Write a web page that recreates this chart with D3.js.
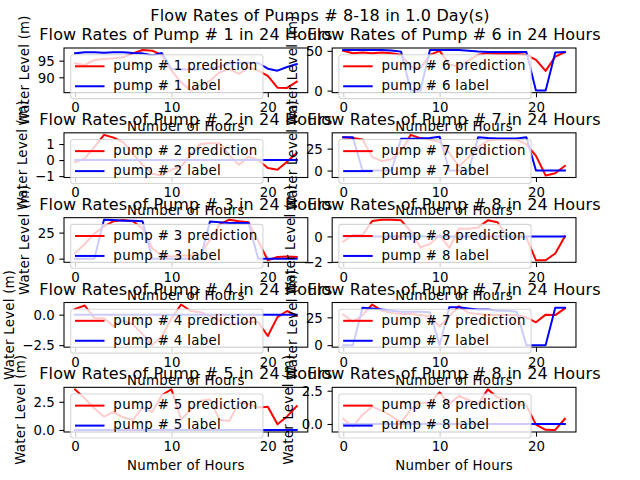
<!DOCTYPE html>
<html><head><meta charset="utf-8">
<script src="https://cdn.jsdelivr.net/npm/d3@7"></script>
<style>body{margin:0;background:#fff} svg{display:block} text{font-family:"DejaVu Sans",sans-serif;fill:#000}</style>
</head><body><svg id="chart" width="640" height="480"></svg>
<script>
// ---------------- DATA ----------------
const hours = [0,1,2,3,4,5,6,7,8,9,10,11,12,13,14,15,16,17,18,19,20,21,22,23];
const xTickValues = [0,10,20];
const suptitle = "Flow Rates of Pumps # 8-18 in 1.0 Day(s)";

const pump1Pred  = [94.2,93.7,95.2,95.5,95.7,96.0,97.2,98.2,98.0,96.7,92.0,88.5,86.0,87.5,89.0,91.5,92.5,91.0,93.0,92.0,90.4,86.9,86.8,88.7];
const pump1Label = [97.2,97.5,97.5,97.4,97.5,97.5,97.3,97.2,96.6,97.3,92.5,92.4,92.3,92.4,92.6,93.2,94.2,94.4,94.4,94.3,92.6,92.0,93.1,94.0];
const pump2Pred  = [-0.15,0.1,0.8,1.57,1.4,1.1,0.4,-0.3,-0.85,-0.96,-0.6,-0.4,0.3,1.0,1.05,1.05,0.3,-0.3,0.2,0.0,-0.5,-0.6,-0.1,0.45];
const pump2Label = [0,0,0,0,0,0,0,0,0,0,0,0,0,0,0,0,0,0,0,0,0,0,0,0];
const pump3Pred  = [5.5,14,24,31,36,37,36,29,10,3,2,3,3,4,18,33,37.4,36,35,17,-1.6,1.6,2,1.5];
const pump3Label = [0,0,0,37.4,37,36.5,36.5,36,0,0,0,0,0,0,35.7,35,34.2,34.2,34.2,0,0,0,0,0];
const pump4Pred  = [0.47,0.75,-0.28,-0.3,-0.97,-0.5,-0.8,-1.6,-2.5,-1.8,-0.3,0.83,0.3,0.2,-0.1,-0.5,-0.8,-0.7,-0.6,-0.6,-1.75,-0.2,0.3,-0.1];
const pump4Label = [0,0,0,0,0,0,0,0,0,0,0,0,0,0,0,0,0,0,0,0,0,0,0,0];
const pump5Pred  = [3.6,2.8,1.9,1.18,1.6,1.1,0.9,2.0,1.6,3.1,3.6,0.9,1.8,2.6,2.7,0.9,0.8,2.4,2.3,2.0,2.06,0.5,1.2,2.1];
const pump5Label = [0,0,0,0,0,0,0,0,0,0,0,0,0,0,0,0,0,0,0,0,0,0,0,0];
const pump6Pred  = [50,47,48,47,48,47,45,30,28,45,50,33,30,38,45,47,46,46,46,45,38.6,24.8,42.8,48.3];
const pump6Label = [51,51,51,51,51,50.5,49,0,0,51,51,51,51,50,49,48.5,48.5,48.5,48.5,48.5,0,0,48,48.5];
const pump7aPred  = [38,37,35.4,15.6,10.8,13,22,40.7,37,35,33,20,5,15,27,34,35,35,35,30,16.8,-5.6,-3,5.3];
const pump7aLabel = [38,38,0,0,0,0,36.2,36.2,36.5,37,38.5,0,0,0,38,37,36.5,36.5,36.5,38,0,0,0,0];
const pump8aPred  = [-0.4,0.1,0.1,1.2,1.3,1.3,1.25,0.4,-0.85,-0.6,0.1,-0.9,0.6,0.6,0.7,1.25,1.1,0.0,0.0,-0.1,-1.86,-1.86,-1.33,0.0];
const pump8aLabel = [0,0,0,0,0,0,0,0,0,0,0,0,0,0,0,0,0,0,0,0,0,0,0,0];
const pump7bPred  = [27.4,21,27,36.5,31,29,28,28,27,26,16.8,26,35,29,28,27,27,27,27,25,20.5,27.4,27,33];
const pump7bLabel = [0,0,33.6,33,32,31,30,30,30,29.6,0,34,34,33,32,32,31,31,30,0,0,0,33.6,33.6];
const pump8bPred  = [0.39,-0.2,0.7,1.3,1.0,0.6,0.1,1.1,1.6,1.6,2.37,1.5,2.1,1.8,1.5,2.6,2.0,1.8,1.5,1.4,-0.05,-0.44,-0.45,0.39];
const pump8bLabel = [0,0,0,0,0,0,0,0,0,0,0,0,0,0,0,0,0,0,0,0,0,0,0,0];

// panel order: row-major (row, col)
const panelPumps   = [1,6,2,7,3,8,4,7,5,8];
const panelPreds   = [pump1Pred,pump6Pred,pump2Pred,pump7aPred,pump3Pred,pump8aPred,pump4Pred,pump7bPred,pump5Pred,pump8bPred];
const panelLabels  = [pump1Label,pump6Label,pump2Label,pump7aLabel,pump3Label,pump8aLabel,pump4Label,pump7bLabel,pump5Label,pump8bLabel];
const yTickValues  = [[90,95],[0,50],[-1,0,1],[0,25],[0,25],[-2,0],[-2.5,0],[0,25],[0,2.5],[0,2.5]];
const yTickLabels  = [["90","95"],["0","50"],["\u22121","0","1"],["0","25"],["0","25"],["\u22122","0"],["\u22122.5","0.0"],["0","25"],["0.0","2.5"],["0.0","2.5"]];

// ---------------- LAYOUT ----------------
const svg = d3.select('#chart');
svg.append('rect').attr('width',640).attr('height',480).attr('fill','#fff');
const FS = 13.333, TS = 16, LW = 1.07;
const W = 243.8, H = 44.65;
const colX = [64, 64 + W * 1.1];
const rowTop = r => 48 + r * H * 1.9;
const defs = svg.append('defs');

svg.append('text').attr('x',320).attr('y',21).attr('text-anchor','middle')
  .style('font-size',TS+'px').style('letter-spacing','0.15px').text(suptitle);

panelPumps.forEach((pump, i) => {
  const r = Math.floor(i/2), c = i % 2;
  const x0 = colX[c], y0 = rowTop(r);
  const pred = panelPreds[i], lab = panelLabels[i];
  const g = svg.append('g');
  const x = d3.scaleLinear().domain([-1.15, 24.15]).range([x0, x0+W]);
  const ext = d3.extent(pred.concat(lab));
  const pad = (ext[1]-ext[0]) * 0.05;
  const y = d3.scaleLinear().domain([ext[0]-pad, ext[1]+pad]).range([y0+H, y0]);

  defs.append('clipPath').attr('id','clip'+i).append('rect')
    .attr('x',x0).attr('y',y0).attr('width',W).attr('height',H);
  const line = d3.line().x((d,k)=>x(hours[k])).y(d=>y(d));
  const pg = g.append('g').attr('clip-path',`url(#clip${i})`);
  pg.append('path').datum(pred).attr('d',line).attr('fill','none').attr('stroke','red')
    .attr('stroke-width',2).attr('stroke-linejoin','round').attr('stroke-linecap','square');
  pg.append('path').datum(lab).attr('d',line).attr('fill','none').attr('stroke','blue')
    .attr('stroke-width',2).attr('stroke-linejoin','round').attr('stroke-linecap','square');

  // spines
  g.append('rect').attr('x',x0).attr('y',y0).attr('width',W).attr('height',H)
    .attr('fill','none').attr('stroke','#000').attr('stroke-width',LW);

  // x axis
  const xa = g.append('g').attr('transform',`translate(0,${y0+H})`)
    .call(d3.axisBottom(x).tickValues(xTickValues).tickFormat(d3.format('d')).tickSize(4.67).tickPadding(4.67));
  // y axis
  const ya = g.append('g').attr('transform',`translate(${x0},0)`)
    .call(d3.axisLeft(y).tickValues(yTickValues[i]).tickFormat((d,k)=>yTickLabels[i][k]).tickSize(4.67).tickPadding(4.67));
  [xa, ya].forEach(a => {
    a.select('.domain').remove();
    a.attr('font-family',null).attr('font-size',null);
    a.selectAll('.tick line').attr('stroke','#000').attr('stroke-width',LW);
    a.selectAll('.tick text').style('font-size',FS+'px').attr('fill','#000');
  });
  xa.selectAll('.tick text').attr('dy','0.76em');
  ya.selectAll('.tick text').attr('dy','0.36em');

  // axis labels
  let minX = Infinity;
  ya.selectAll('.tick text').each(function(){ const b=this.getBBox(); const m=this.getCTM(); minX=Math.min(minX, b.x + m.e); });
  const ylx = minX - 5.33 - 3.1;
  g.append('text').attr('transform',`translate(${ylx},${y0+H/2}) rotate(-90)`)
    .attr('text-anchor','middle').style('font-size',FS+'px').style('letter-spacing','0.25px').text('Water Level (m)');
  g.append('text').attr('x',x0+W/2).attr('y',y0+H+38).attr('text-anchor','middle')
    .style('font-size',FS+'px').style('letter-spacing','0.25px').text('Number of Hours');

  // title
  g.append('text').attr('x',x0+W/2).attr('y',y0-8).attr('text-anchor','middle')
    .style('font-size',TS+'px').style('letter-spacing','0.15px').text(`Flow Rates of Pump # ${pump} in 24 Hours`);

  // legend (upper left)
  const lg = g.append('g');
  const lx = x0 + 6.67, ly = y0 + 6.67;
  const items = [{t:`pump # ${pump} prediction`, c:'red'}, {t:`pump # ${pump} label`, c:'blue'}];
  const box = lg.append('rect');
  let maxW = 0;
  items.forEach((it,k) => {
    const rtop = ly + 5.33 + k*(13.3+6.67);
    lg.append('line').attr('x1',lx+5.33).attr('x2',lx+5.33+27.5).attr('y1',rtop+6.3).attr('y2',rtop+6.3)
      .attr('stroke',it.c).attr('stroke-width',2).attr('stroke-linecap','square');
    const t = lg.append('text').attr('x',lx+5.33+26.67+10.67).attr('y',rtop+10.1)
      .style('font-size',FS+'px').style('letter-spacing','0.35px').text(it.t);
    maxW = Math.max(maxW, t.node().getBBox().width);
  });
  box.attr('x',lx).attr('y',ly).attr('width',5.33+26.67+10.67+maxW+5.33).attr('height',5.33*2+13.3*2+6.67)
    .attr('rx',2.67).attr('ry',2.67).attr('fill','#fff').attr('fill-opacity',0.8)
    .attr('stroke','#cccccc').attr('stroke-opacity',0.8).attr('stroke-width',LW);
});
</script></body></html>
